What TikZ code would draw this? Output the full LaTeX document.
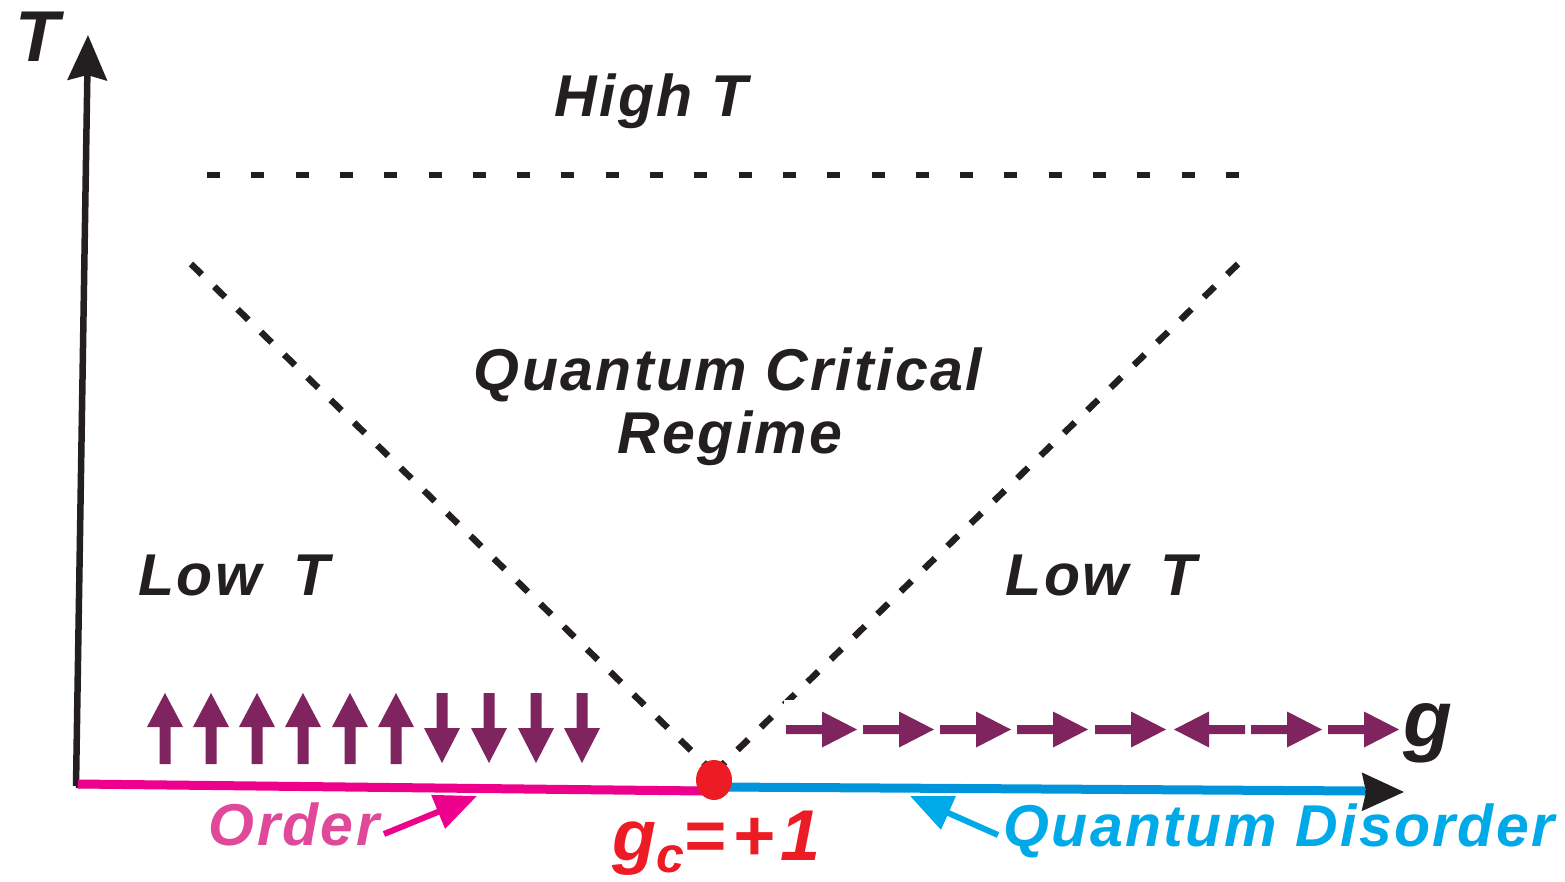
\documentclass[tikz,border=0pt]{standalone}
\usepackage{fontspec}
\setmainfont{Liberation Sans}
\newfontfamily\labfont[LetterSpace=4]{Liberation Sans}
\newfontfamily\gcfont[LetterSpace=9]{Liberation Sans}
\usetikzlibrary{arrows.meta,shapes.geometric}
\definecolor{spin}{RGB}{128,36,96}
\definecolor{ordline}{RGB}{236,0,140}
\definecolor{ordtext}{RGB}{224,72,154}
\definecolor{disline}{RGB}{0,149,218}
\definecolor{distext}{RGB}{0,169,232}
\definecolor{crit}{RGB}{237,28,36}
\definecolor{ink}{RGB}{35,31,32}
\tikzset{
  lab/.style={font=\labfont\bfseries\itshape\fontsize{59}{62}\selectfont, text=ink, inner sep=0pt, anchor=base},
  biglab/.style={font=\labfont\bfseries\itshape\fontsize{72}{74}\selectfont, text=ink, inner sep=0pt, anchor=base},
  phaseline/.style={ink, line width=6pt},
  upspin/.pic={\fill[spin] (-5.5,0) -- (-5.5,-37) -- (-18,-37) -- (0,-71) -- (18,-37) -- (5.5,-37) -- (5.5,0) -- cycle;},
  downspin/.pic={\fill[spin] (-5.5,0) -- (-5.5,35) -- (-18,35) -- (0,70) -- (18,35) -- (5.5,35) -- (5.5,0) -- cycle;},
  rightspin/.pic={\fill[spin] (0,-4.5) -- (36,-4.5) -- (36,-18) -- (71,0) -- (36,18) -- (36,4.5) -- (0,4.5) -- cycle;},
  leftspin/.pic={\fill[spin] (71,-4.5) -- (35,-4.5) -- (35,-18) -- (0,0) -- (35,18) -- (35,4.5) -- (71,4.5) -- cycle;},
}
\begin{document}
\begin{tikzpicture}[x=1pt,y=-1pt]
\useasboundingbox (0,0) rectangle (1565,882);

% coordinates
\coordinate (O) at (76,786);
\coordinate (Ttip) at (88,35);
\coordinate (gtip) at (1404,792);
\coordinate (hl) at (207,175);
\coordinate (hr) at (1242,175);
\coordinate (dl1) at (191,264);
\coordinate (dl2) at (707,766);
\coordinate (dr1) at (721,766);
\coordinate (dr2) at (1238,264);
\coordinate (pinkL) at (78,784);
\coordinate (pinkR) at (703,791);
\coordinate (blueL) at (720,787);
\coordinate (blueR) at (1365,791);
\coordinate (ordS) at (384,834);
\coordinate (ordE) at (477,796);
\coordinate (disS) at (998,835);
\coordinate (disE) at (910,796);

% dashed boundaries
\draw[phaseline, dash pattern=on 13pt off 31.3pt] (hl) -- (hr);
\draw[phaseline, line width=6.5pt, dash pattern=on 15pt off 17.5pt] (dl1) -- (dl2);
\draw[phaseline, line width=6.5pt, dash pattern=on 15pt off 17.5pt] (dr2) -- (dr1);

% axes
\draw[ink, line width=6.5pt, -{Stealth[length=45pt,width=39pt,inset=5pt]}] (O) -- (Ttip);
\draw[ink, line width=4pt, -{Stealth[length=42pt,width=38pt,inset=4pt]}] (O) -- (gtip);
\draw[ordline, line width=9pt] (pinkL) -- (pinkR);
\draw[disline, line width=9pt] (blueL) -- (blueR);
\node[ellipse, fill=crit, minimum width=36pt, minimum height=40pt, inner sep=0pt] (qcp) at (714,780) {};

% spins
\fill[white] (784,700) rectangle (1402,760);
\foreach \x in {165,211,257,303,350,396} \pic at (\x,764) {upspin};
\foreach \x in {442,489,536,582} \pic at (\x,693) {downspin};
\foreach \x in {786,863,940,1017,1095,1251,1328} \pic at (\x,729.5) {rightspin};
\pic at (1174,729.5) {leftspin};

% labels
\node[biglab] (Tlab) at (37,62) {T};
\node[biglab, font=\labfont\bfseries\itshape\fontsize{80}{82}\selectfont] (glab) at (1428,746) {g};
\node[lab] (high) at (651,117) {High T};
\node[lab] (qcr1) at (728,390) {Quantum Critical};
\node[lab] (qcr2) at (730,453) {Regime};
\node[lab] (lowL) at (234,595) {Low\hspace{32pt}T};
\node[lab] (lowR) at (1101,595) {Low\hspace{32pt}T};
\node[lab, text=ordtext] (order) at (294,845) {Order};
\node[lab, text=distext] (disorder) at (1279,846) {Quantum Disorder};
\node[lab, text=crit, anchor=base west, font=\gcfont\bfseries\itshape\fontsize{72}{74}\selectfont] (gc) at (612,860) {g\raisebox{-12pt}{\fontsize{50}{52}\selectfont c}=+1};

% pointers
\draw[ordline, line width=6pt, -{Triangle[length=42pt,width=35pt]}] (ordS) -- (ordE);
\draw[distext, line width=6pt, -{Triangle[length=42pt,width=35pt]}] (disS) -- (disE);
\end{tikzpicture}
\end{document}
